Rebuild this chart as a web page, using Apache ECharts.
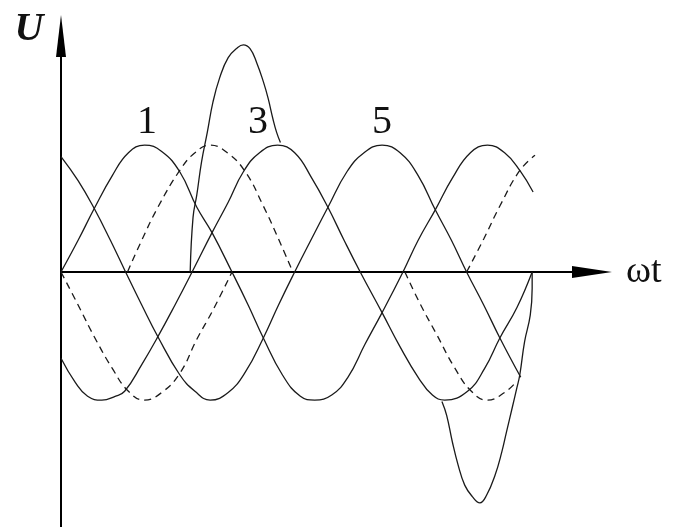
<!DOCTYPE html>
<html>
<head>
<meta charset="utf-8">
<script src="https://cdn.jsdelivr.net/npm/echarts@6/dist/echarts.min.js"></script>
<style>
  html, body { margin: 0; padding: 0; background: #fff; }
  #chart { width: 673px; height: 527px; }
</style>
</head>
<body>
<div id="chart"></div>
<script>
// Phase voltages of a three-phase supply, angle ωt in degrees, amplitude in per-unit.
const phaseA = [[0,0.91],[18,0.72],[35,0.50],[52,0.25],[68,0],[85,-0.26],[102,-0.51],[125,-0.81],[141,-0.94],[157,-1.01],[176,-0.95],[194,-0.79],[213,-0.52],[229,-0.26],[246,0],[263,0.25],[281,0.51],[301,0.79],[319,0.94],[338,1.00],[357,0.94],[376,0.76],[394,0.49],[411,0.25],[427,0],[445,-0.26],[462,-0.52],[484,-0.83]];
const phaseB = [[0,0],[18,0.25],[35,0.50],[54,0.76],[71,0.94],[88,1.00],[106,0.95],[125,0.79],[143,0.51],[159,0.31],[180,0],[197,-0.26],[213,-0.52],[233,-0.81],[252,-0.98],[267,-1.01],[285,-0.97],[302,-0.83],[320,-0.57],[338,-0.32],[360,0],[376,0.25],[394,0.49],[412,0.74],[431,0.94],[449,1.00],[467,0.94],[483,0.80],[497,0.63]];
const phaseC = [[0,-0.68],[15,-0.87],[28,-0.98],[43,-1.01],[57,-0.98],[67,-0.94],[85,-0.73],[102,-0.51],[120,-0.26],[138,0],[159,0.31],[176,0.55],[192,0.79],[209,0.94],[228,1.00],[246,0.94],[264,0.74],[281,0.51],[298,0.25],[315,0],[338,-0.32],[357,-0.59],[376,-0.83],[391,-0.97],[404,-1.01],[428,-0.94],[446,-0.76],[462,-0.52],[480,-0.28],[496,0]];

// Inverted phases (dashed), shown only over the intervals where they are used.
const negB1 = [[0,0],[18,-0.26],[35,-0.51],[54,-0.76],[71,-0.94],[88,-1.01],[106,-0.95],[125,-0.80],[143,-0.53],[160,-0.30],[180,0]];
const negA1 = [[70,0],[85,0.25],[102,0.51],[125,0.80],[141,0.94],[157,1.00],[175,0.94],[194,0.79],[213,0.52],[229,0.26],[244,0]];
const negB2 = [[362,0],[378,-0.25],[396,-0.50],[414,-0.75],[432,-0.94],[449,-1.01],[467,-0.95],[480,-0.86]];
const negA2 = [[427,0],[445,0.26],[462,0.52],[483,0.80],[499,0.92]];

// Line-voltage segments applied during commutation.
const lineRise = [[136,0],[139,0.43],[143,0.61],[148,0.87],[154,1.10],[160,1.34],[167,1.53],[176,1.69],[186,1.77],[192,1.79],[199,1.76],[206,1.65],[213,1.50],[218,1.37],[223,1.21],[227,1.10],[231,1.02]];
const lineDip = [[401,-1.02],[406,-1.13],[412,-1.34],[418,-1.52],[425,-1.68],[433,-1.77],[441,-1.82],[448,-1.76],[457,-1.60],[464,-1.42],[469,-1.26],[475,-1.07],[480,-0.91],[483,-0.81],[488,-0.55],[494,-0.34],[496,-0.13],[496,0]];

// Thyristor numbers written above the positive peaks.
const valveLabels = ['1', '3', '5'];

const ink = '#1a1a1a';
const solid = { color: ink, width: 1.3, type: 'solid' };
const dashed = { color: ink, width: 1.3, type: [7, 5] };

function curve(data, style) {
  return {
    type: 'line', data: data, smooth: 0.45, showSymbol: false, symbol: 'none',
    lineStyle: style, silent: true, clip: false, z: 3
  };
}

const labelFont = '40px "Liberation Serif"';

const chart = echarts.init(document.getElementById('chart'), null, { renderer: 'canvas' });
chart.setOption({
  animation: false,
  backgroundColor: '#fff',
  grid: { left: 61, top: 36, width: 531, height: 491, containLabel: false },
  xAxis: {
    type: 'value', min: 0, max: 559,
    axisLine: { show: true, onZero: true, symbol: ['none', 'triangle'], symbolSize: [12, 40],
                lineStyle: { color: '#000', width: 2 } },
    axisTick: { show: false }, axisLabel: { show: false }, splitLine: { show: false }
  },
  yAxis: {
    type: 'value', min: -2.01, max: 1.86,
    axisLine: { show: true, onZero: true, symbol: ['none', 'triangle'], symbolSize: [10, 42],
                lineStyle: { color: '#000', width: 2 } },
    axisTick: { show: false }, axisLabel: { show: false }, splitLine: { show: false }
  },
  series: [
    curve(phaseA, solid),
    curve(phaseB, solid),
    curve(phaseC, solid),
    curve(negB1, dashed),
    curve(negA1, dashed),
    curve(negB2, dashed),
    curve(negA2, dashed),
    curve(lineRise, solid),
    curve(lineDip, solid)
  ],
  graphic: [
    { type: 'text', x: 147, y: 122, style: { text: valveLabels[0], font: labelFont, fill: '#111', textAlign: 'center', textVerticalAlign: 'middle' } },
    { type: 'text', x: 258, y: 122, style: { text: valveLabels[1], font: labelFont, fill: '#111', textAlign: 'center', textVerticalAlign: 'middle' } },
    { type: 'text', x: 382, y: 122, style: { text: valveLabels[2], font: labelFont, fill: '#111', textAlign: 'center', textVerticalAlign: 'middle' } },
    { type: 'text', x: 29, y: 30, style: { text: 'U', font: 'italic bold 40px "Liberation Serif"', fill: '#111', textAlign: 'center', textVerticalAlign: 'middle' } },
    { type: 'text', x: 626, y: 272, style: { text: 'ωt', font: '38px "Liberation Serif"', fill: '#111', textAlign: 'left', textVerticalAlign: 'middle' } }
  ]
});
</script>
</body>
</html>
